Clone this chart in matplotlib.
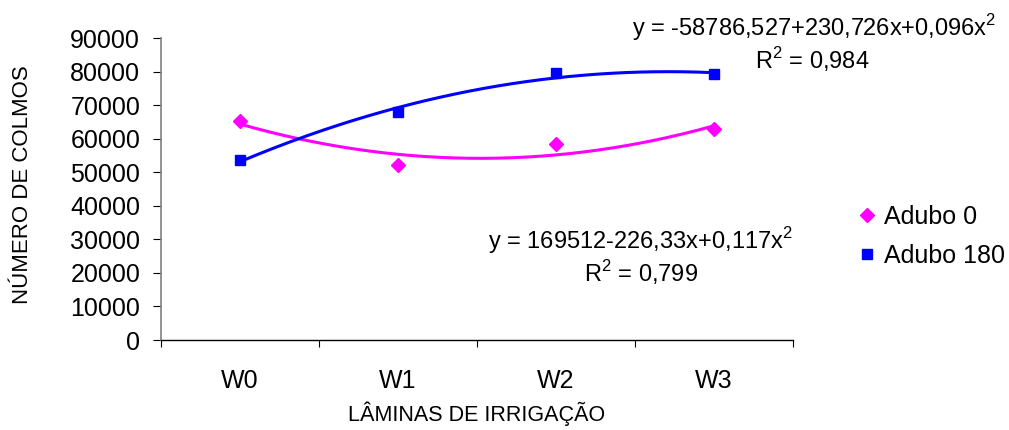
import numpy as np
import matplotlib
matplotlib.use("Agg")
import matplotlib.pyplot as plt

plt.rcParams['font.family'] = ['Liberation Sans', 'DejaVu Sans']
plt.rcParams['mathtext.fontset'] = 'custom'
plt.rcParams['mathtext.rm'] = 'Liberation Sans'

# dados
laminas = ['W0', 'W1', 'W2', 'W3']
adubo_0 = [65400, 52200, 58300, 62800]
adubo_180 = [53600, 67900, 79500, 79200]

rosa = '#FF00FF'
azul = '#0000FF'

fig = plt.figure(figsize=(10.09, 4.30), dpi=100)
ax = fig.add_axes([0.1596, 0.2093, 0.6264, 0.7023])

x = np.arange(len(laminas))
xs = np.linspace(0, 3, 200)

# linhas de tendência (polinomial de 2a ordem)
for serie, cor in [(adubo_0, rosa), (adubo_180, azul)]:
    coef = np.polyfit(x, serie, 2)
    ax.plot(xs, np.polyval(coef, xs), color=cor, lw=2.2, zorder=2)

ax.plot(x, adubo_0, 'D', color=rosa, ms=7.5, ls='none', label='Adubo 0', zorder=3)
ax.plot(x, adubo_180, 's', color=azul, ms=7.5, ls='none', label='Adubo 180', zorder=3)

ax.set_xlim(-0.5, 3.5)
ax.set_ylim(0, 90000)
ax.set_yticks(np.arange(0, 90001, 10000))
ax.tick_params(axis='y', labelsize=18, length=6, pad=9, color='black')

ax.set_xticks(np.arange(-0.5, 3.6, 1))
ax.set_xticklabels([])
ax.tick_params(axis='x', which='major', length=5, direction='out')
ax.set_xticks(x, minor=True)
ax.set_xticklabels(laminas, minor=True)
ax.tick_params(axis='x', which='minor', length=0, labelsize=18, pad=21)

ax.spines['top'].set_visible(False)
ax.spines['right'].set_visible(False)
ax.spines['left'].set_color('#808080')
ax.spines['left'].set_linewidth(1.2)
ax.spines['bottom'].set_linewidth(1.0)

ax.set_xlabel('LÂMINAS DE IRRIGAÇÃO', fontsize=15.5, labelpad=6)
fig.text(0.022, 0.57, 'NÚMERO DE COLMOS', rotation=90, fontsize=16,
         ha='center', va='center')

# equações
fig.text(0.987, 0.935, r'y = -58786,527+230,726x+0,096x$^2$', fontsize=17,
         ha='right', va='center')
fig.text(0.805, 0.862, r'R$^2$ = 0,984', fontsize=17, ha='center', va='center')
fig.text(0.635, 0.44, r'y = 169512-226,33x+0,117x$^2$', fontsize=17,
         ha='center', va='center')
fig.text(0.635, 0.367, r'R$^2$ = 0,799', fontsize=17, ha='center', va='center')

ax.legend(loc='center left', bbox_to_anchor=(0.822, 0.45), bbox_transform=fig.transFigure,
          frameon=False, fontsize=18, handletextpad=0.1, handlelength=1.2,
          labelspacing=0.6, markerscale=0.9)

fig.savefig('out.png', dpi=100)
